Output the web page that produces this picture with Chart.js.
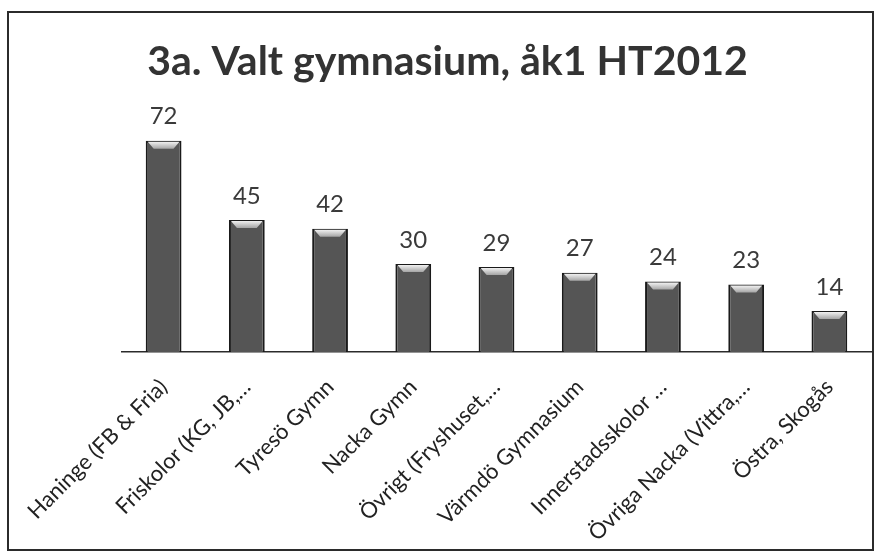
<!DOCTYPE html>
<html>
<head>
<meta charset="utf-8">
<script src="https://cdn.jsdelivr.net/npm/chart.js@4.4.0/dist/chart.umd.min.js"></script>
<style>
  html, body { margin: 0; padding: 0; background: #fff; }
  #wrap { position: relative; width: 877px; height: 558px; }
  #frame {
    position: absolute; left: 7px; top: 11px; width: 863px; height: 536px;
    border: 2px solid #2b2b2b;
  }
  canvas { position: absolute; left: 0; top: 0; }
</style>
</head>
<body>
<div id="wrap">
  <div id="frame"></div>
  <canvas id="chart" width="877" height="558"></canvas>
</div>
<script>
const titleText = '3a. Valt gymnasium, åk1 HT2012'
const categories = [
  'Haninge (FB & Fria)',
  'Friskolor (KG, JB,…',
  'Tyresö Gymn',
  'Nacka Gymn',
  'Övrigt (Fryshuset,…',
  'Värmdö Gymnasium',
  'Innerstadsskolor …',
  'Övriga Nacka (Vittra,…',
  'Östra, Skogås'
]
const counts = [72, 45, 42, 30, 29, 27, 24, 23, 14]

const fontFamily = 'Lato'

// value labels over each bar + light bevel on bar tops
const barDecor = {
  id: 'barDecor',
  afterDatasetsDraw(chart) {
    const ctx = chart.ctx
    const meta = chart.getDatasetMeta(0)
    ctx.save()
    meta.data.forEach((bar, i) => {
      const half = bar.width / 2
      const left = bar.x - half + 2
      const right = bar.x + half - 2
      const top = bar.y + 1
      const g = ctx.createLinearGradient(0, top, 0, top + 8)
      g.addColorStop(0, '#f2f2f2')
      g.addColorStop(1, '#9a9a9a')
      ctx.fillStyle = g
      ctx.beginPath()
      ctx.moveTo(left, top)
      ctx.lineTo(right, top)
      ctx.lineTo(right - 6, top + 7)
      ctx.lineTo(left + 6, top + 7)
      ctx.closePath()
      ctx.fill()

      ctx.fillStyle = '#3a3a3a'
      ctx.font = `24px ${fontFamily}`
      ctx.textAlign = 'center'
      ctx.textBaseline = 'middle'
      ctx.fillText(String(counts[i]), bar.x, bar.y - 24)
    })
    ctx.restore()
  }
}

const ctx = document.getElementById('chart').getContext('2d')

new Chart(ctx, {
  type: 'bar',
  data: {
    labels: categories,
    datasets: [{
      data: counts,
      backgroundColor: (c) => {
        const el = c.chart.getDatasetMeta(0).data[c.dataIndex]
        if (!el || !el.width) return '#555'
        const x0 = el.x - el.width / 2
        const g = c.chart.ctx.createLinearGradient(x0, 0, x0 + el.width, 0)
        g.addColorStop(0, '#333')
        g.addColorStop(0.2, '#5e5e5e')
        g.addColorStop(0.5, '#4f4f4f')
        g.addColorStop(0.8, '#5e5e5e')
        g.addColorStop(1, '#333')
        return g
      },
      borderColor: '#1a1a1a',
      borderWidth: 2,
      categoryPercentage: 1,
      barPercentage: 0.43
    }]
  },
  plugins: [barDecor],
  options: {
    responsive: false,
    animation: false,
    layout: {
      padding: { left: 24, right: 6, top: 0, bottom: 0 }
    },
    scales: {
      x: {
        grid: { display: false },
        border: { display: true, color: '#2b2b2b', width: 1.5 },
        ticks: {
          color: '#222',
          font: { family: fontFamily, size: 22 },
          maxRotation: 45,
          minRotation: 45,
          autoSkip: false,
          padding: 14
        },
        afterFit: (scale) => { scale.height = 206 }
      },
      y: {
        display: true,
        min: 0,
        max: 80,
        grid: { display: false },
        border: { display: false },
        ticks: { display: false },
        afterFit: (scale) => { scale.width = 98 }
      }
    },
    plugins: {
      legend: { display: false },
      tooltip: { enabled: false },
      title: {
        display: true,
        text: titleText,
        color: '#333',
        font: { family: fontFamily, size: 41, weight: 'bold' },
        padding: { top: 37, bottom: 31 }
      }
    }
  }
})
</script>
</body>
</html>
